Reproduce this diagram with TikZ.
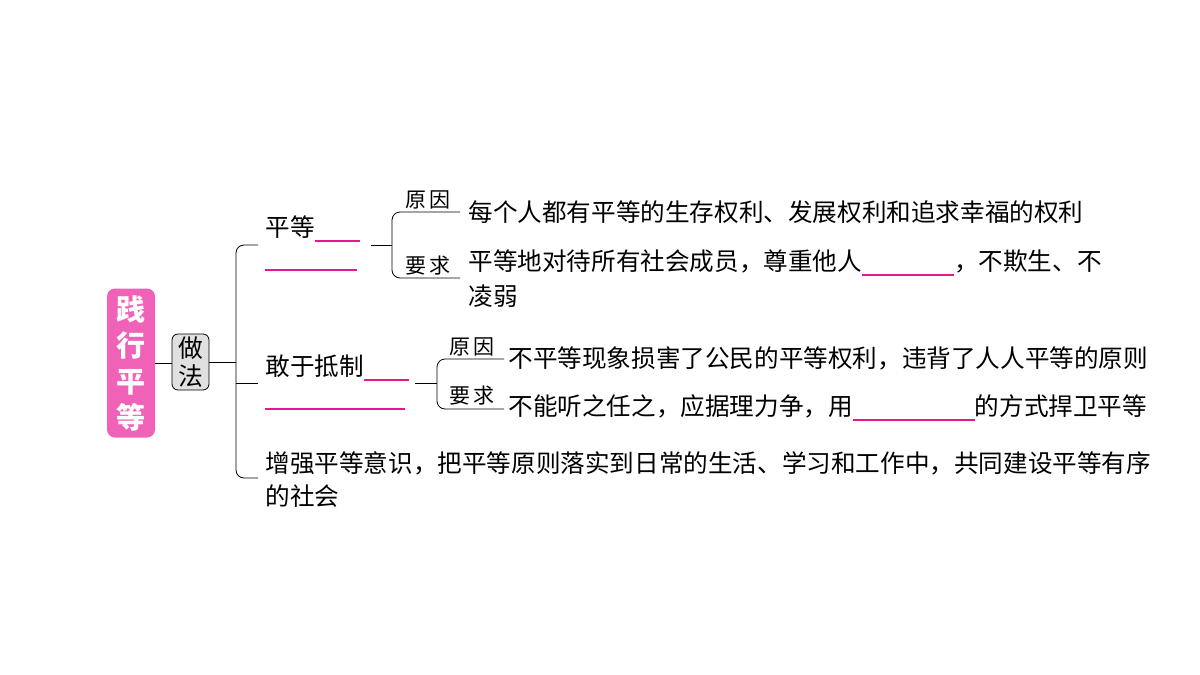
\documentclass[tikz,border=0pt]{standalone}
\usepackage{fontspec}
\setmainfont{Noto Sans CJK SC}
\usetikzlibrary{positioning}
\definecolor{titlepink}{rgb}{0.94,0.38,0.72}
\definecolor{blankpink}{rgb}{0.90,0.10,0.55}
\newcommand{\blank}[1]{{\color{blankpink}\rule[-2.5pt]{#1}{0.9pt}}}
\tikzset{
  txt/.style={anchor=west, inner sep=0pt, font=\fontsize{12.3pt}{16.5pt}\selectfont},
  tag/.style={inner sep=0pt, font=\fontsize{10.5pt}{12pt}\selectfont},
  brace/.style={rounded corners=4pt, thin}
}
\begin{document}
\begin{tikzpicture}[x=0.5pt,y=-0.5pt]
	\useasboundingbox (0,0) rectangle (1200,675);
	
	%title and sub title
	\node[fill=titlepink, rounded corners=4pt, minimum width=24pt, minimum height=74.5pt, inner sep=0pt,
	      text=white, font=\fontsize{14.5pt}{18pt}\selectfont\bfseries, align=center] (title) at (131,363) {践\\行\\平\\等};
	\node[draw, fill=black!12, rounded corners=3pt, minimum width=18.5pt, minimum height=28pt, inner sep=0pt,
	      font=\fontsize{12.4pt}{14pt}\selectfont, align=center] (how) at (190.5,362) {做\\法};
	\draw (title.east |- 0,363) -- (how.west |- 0,363);
	\coordinate (fork) at (236,362);
	\draw (how.east |- 0,362) -- (fork);
	
	%main brace
	\draw[brace] (258,245) -- (236,245) -- (236,478) -- (258,478);
	\draw (236,383) -- (258,383);
	
	%branch one
	\node[txt] (eqa) at (265,229) {平等\blank{22.5pt}};
	\node[txt] (eqb) at (265,268) {\blank{46pt}};
	\coordinate (j1) at (371,245);
	\coordinate (b1) at (392,245);
	\draw (j1) -- (b1);
	\draw[brace] (460,212) -- (392,212) -- (392,278) -- (460,278);
	\node[tag] (r1) at (428,200) {原\,因};
	\node[tag] (q1) at (428,266) {要\,求};
	\node[txt] (r1t) at (468,212) {每个人都有平等的生存权利、发展权利和追求幸福的权利};
	\node[txt] (q1t) at (468,263) {平等地对待所有社会成员，尊重他人\blank{46pt}，不欺生、不};
	\node[txt] (q1u) at (468,296) {凌弱};
	
	%branch two
	\node[txt] (resa) at (265,368) {敢于抵制\blank{22.5pt}};
	\node[txt] (resb) at (265,407) {\blank{70pt}};
	\coordinate (j2) at (415,383);
	\coordinate (b2) at (437,383);
	\draw (j2) -- (b2);
	\draw[brace] (504,359) -- (437,359) -- (437,409) -- (504,409);
	\node[tag] (r2) at (472,347) {原\,因};
	\node[tag] (q2) at (472,396) {要\,求};
	\node[txt] (r2t) at (508,358) {不平等现象损害了公民的平等权利，违背了人人平等的原则};
	\node[txt] (q2t) at (508,408) {不能听之任之，应据理力争，用\blank{61pt}的方式捍卫平等};
	
	%branch three
	\node[txt] (ena) at (265,463) {增强平等意识，把平等原则落实到日常的生活、学习和工作中，共同建设平等有序};
	\node[txt] (enb) at (265,496) {的社会};
\end{tikzpicture}
\end{document}
